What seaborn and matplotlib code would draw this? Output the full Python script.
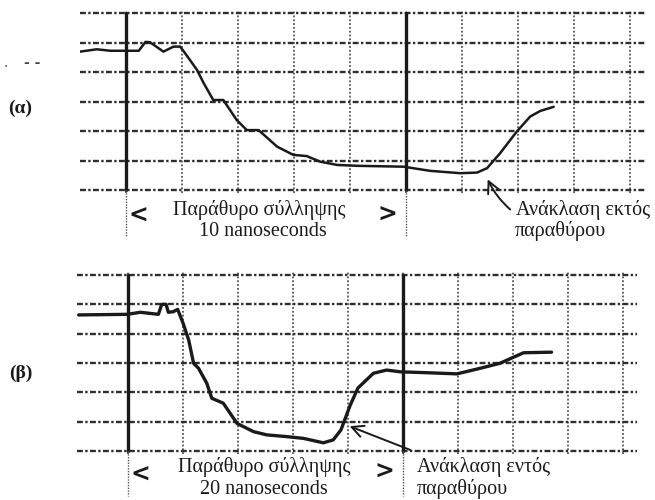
import matplotlib.pyplot as plt
import seaborn as sns

# trace (α): time and amplitude in screen divisions
alpha_t = [-0.82, -0.52, -0.28, 0.23, 0.35, 0.43, 0.67, 0.85, 0.97, 1.06, 1.27, 1.39,
           1.56, 1.74, 1.98, 2.16, 2.37, 2.70, 2.99, 3.23, 3.47, 3.77, 4.13, 4.96,
           5.43, 5.97, 6.27, 6.45, 6.68, 6.98, 7.22, 7.40, 7.64]
alpha_v = [4.69, 4.77, 4.72, 4.72, 5.02, 5.01, 4.69, 4.86, 4.86, 4.63, 4.07, 3.62,
           3.05, 3.05, 2.37, 2.03, 2.03, 1.47, 1.19, 1.15, 0.96, 0.85, 0.82, 0.79,
           0.65, 0.57, 0.59, 0.74, 1.24, 1.98, 2.49, 2.68, 2.82]

# trace (β)
beta_t = [-0.90, -0.02, 0.22, 0.55, 0.61, 0.69, 0.73, 0.82, 0.90, 1.00, 1.10, 1.19,
          1.28, 1.43, 1.52, 1.73, 1.98, 2.28, 2.52, 2.89, 3.19, 3.55, 3.73, 3.87,
          4.04, 4.18, 4.46, 4.70, 4.95, 5.43, 5.98, 6.40, 6.76, 7.19, 7.70]
beta_v = [4.64, 4.66, 4.73, 4.66, 5.00, 5.00, 4.73, 4.75, 4.83, 4.35, 3.79, 2.99,
          2.82, 2.31, 1.80, 1.63, 0.94, 0.66, 0.55, 0.49, 0.43, 0.28, 0.38, 0.72,
          1.57, 2.15, 2.65, 2.76, 2.70, 2.67, 2.63, 2.82, 2.99, 3.35, 3.37]

panel_labels = ['(α)', '(β)']
window_text = 'Παράθυρο σύλληψης'
window_widths = ['10 nanoseconds', '20 nanoseconds']
reflection_text = ['Ανάκλαση εκτός', 'Ανάκλαση εντός']
reflection_sub = 'παραθύρου'

sns.set_theme(style='white')
plt.rcParams['font.family'] = ['Liberation Serif', 'DejaVu Serif']
ink = '#1a1a1a'

fig = plt.figure(figsize=(6.55, 5.0), dpi=100)
ax1 = fig.add_axes([0.1221, 0.6141, 0.8626, 0.3658])
ax2 = fig.add_axes([0.1176, 0.0921, 0.8550, 0.3637])


def scope_grid(ax, xlim):
    ax.set_xlim(*xlim)
    ax.set_ylim(-0.1, 6.1)
    ax.set_xticks(range(10))
    ax.set_yticks(range(7))
    ax.xaxis.grid(True, color='#3a3a3a', lw=1.1, ls=(0, (1.2, 1.3)))
    ax.yaxis.grid(True, color='#2e2e2e', lw=1.7, ls=(0, (2.5, 1, 1, 1)))
    ax.tick_params(length=0, labelbottom=False, labelleft=False)
    for s in ax.spines.values():
        s.set_visible(False)
    for x in (0, 5):
        ax.axvline(x, ymin=0.1 / 6.2, ymax=6.1 / 6.2, color=ink, lw=2.4)
        ax.plot([x, x], [0, -1.55], color='#555', lw=1.0, ls=(0, (1, 1)), clip_on=False)


scope_grid(ax1, (-0.82, 9.27))
scope_grid(ax2, (-0.93, 9.255))

sns.lineplot(x=alpha_t, y=alpha_v, ax=ax1, color=ink, lw=1.8, estimator=None, sort=False)
sns.lineplot(x=beta_t, y=beta_v, ax=ax2, color=ink, lw=2.4, estimator=None, sort=False)
for ax in (ax1, ax2):
    ax.set_xlabel('')
    ax.set_ylabel('')

fs = 14.5
chev = dict(fontsize=17, fontweight='bold', color=ink, family='DejaVu Sans', clip_on=False)
head = '->,head_length=0.7,head_width=0.35'

# panel (α) annotations
ax1.text(2.38, -0.68, window_text, ha='center', va='center', fontsize=fs, color=ink, clip_on=False)
ax1.text(2.45, -1.40, window_widths[0], ha='center', va='center', fontsize=fs, color=ink, clip_on=False)
ax1.text(0.04, -0.88, '<', ha='left', va='center', **chev)
ax1.text(4.84, -0.85, '>', ha='right', va='center', **chev)
ax1.text(6.96, -0.68, reflection_text[0], ha='left', va='center', fontsize=fs, color=ink, clip_on=False)
ax1.text(6.94, -1.40, reflection_sub, ha='left', va='center', fontsize=fs, color=ink, clip_on=False)
ax1.annotate('', xy=(6.44, 0.45), xytext=(6.9, -0.72), annotation_clip=False,
             arrowprops=dict(arrowstyle=head, color=ink, lw=1.4, connectionstyle='arc3,rad=-0.12'))

# panel (β) annotations
ax2.text(2.47, -0.55, window_text, ha='center', va='center', fontsize=fs, color=ink, clip_on=False)
ax2.text(2.47, -1.30, window_widths[1], ha='center', va='center', fontsize=fs, color=ink, clip_on=False)
ax2.text(0.04, -0.82, '<', ha='left', va='center', **chev)
ax2.text(4.84, -0.72, '>', ha='right', va='center', **chev)
ax2.text(5.25, -0.55, reflection_text[1], ha='left', va='center', fontsize=fs, color=ink, clip_on=False)
ax2.text(5.25, -1.30, reflection_sub, ha='left', va='center', fontsize=fs, color=ink, clip_on=False)
ax2.annotate('', xy=(3.98, 0.88), xytext=(5.18, 0.0), annotation_clip=False,
             arrowprops=dict(arrowstyle=head, color=ink, lw=1.4))

fig.text(20 / 655, 1 - 108 / 500, panel_labels[0], ha='center', va='center', fontsize=14,
         fontweight='bold', color=ink)
fig.text(21 / 655, 1 - 373 / 500, panel_labels[1], ha='center', va='center', fontsize=14,
         fontweight='bold', color=ink)
fig.text(4 / 655, 1 - 63 / 500, '.', ha='left', va='center', fontsize=12, color='#555')
fig.text(24 / 655, 1 - 63 / 500, '- -', ha='left', va='center', fontsize=10, fontweight='bold',
         family='DejaVu Sans', color='#444')

fig.savefig('out.png', dpi=100, facecolor='white')
